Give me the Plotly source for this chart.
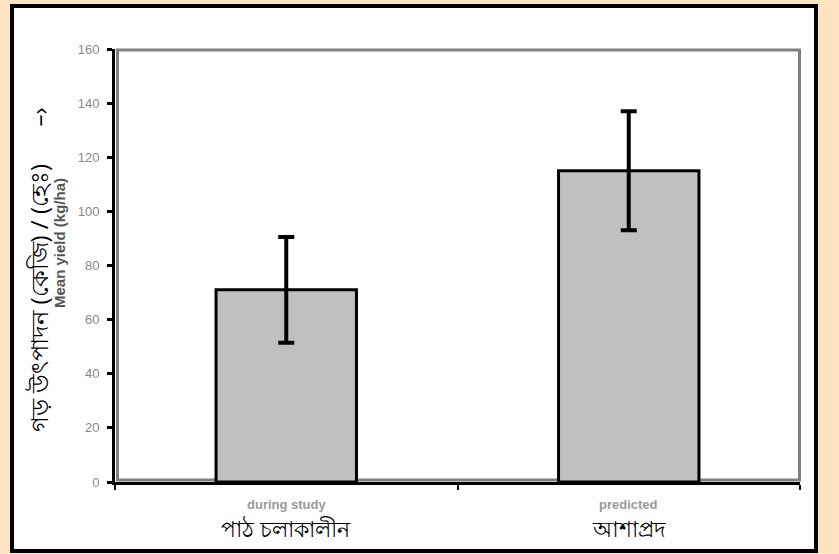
import plotly.graph_objects as go

categories = ["during study", "predicted"]
categories_bn = ["পাঠ চলাকালীন", "আশাপ্রদ"]
means = [71, 115]
errors = [19.5, 22]
y_ticks = [0, 20, 40, 60, 80, 100, 120, 140, 160]
y_title_bn = "গড় উৎপাদন (কেজি) / (হেঃ)" + "\u00a0" * 6 + "–›"
y_title_en = "Mean yield (kg/ha)"

W, H = 839, 554
L, R, T, B = 115, 39, 49, 72
pw, ph = W - L - R, H - T - B

def px_x(p):
    return (p - L) / pw

def px_y(p):
    return (H - B - p) / ph

xs = list(range(len(categories)))

fig = go.Figure()
fig.add_trace(go.Bar(
    x=xs, y=means, width=0.41,
    marker=dict(color="#C0C0C0", line=dict(color="black", width=3)),
    error_y=dict(type="data", array=errors, visible=True, color="black", thickness=4, width=8),
    showlegend=False, hoverinfo="skip",
))

shapes = [
    dict(type="rect", xref="paper", yref="paper", x0=px_x(12), x1=px_x(816), y0=px_y(551), y1=px_y(6),
         fillcolor="white", line=dict(color="black", width=4), layer="below"),
    dict(type="rect", xref="paper", yref="paper", x0=px_x(117.5), x1=px_x(799.5), y0=px_y(480), y1=px_y(50),
         fillcolor="rgba(0,0,0,0)", line=dict(color="#808080", width=3), layer="below"),
]

annotations = []
for i, (en, bn) in enumerate(zip(categories, categories_bn)):
    annotations.append(dict(x=xs[i], y=px_y(504), xref="x", yref="paper", text="<b>" + en + "</b>",
                            showarrow=False, font=dict(size=13, color="#9a9a9a", family="Arial"),
                            xanchor="center", yanchor="middle"))
    annotations.append(dict(x=xs[i], y=px_y(528), xref="x", yref="paper", text=bn,
                            showarrow=False, font=dict(size=22, color="black"),
                            xanchor="center", yanchor="middle"))
annotations.append(dict(x=px_x(38), y=px_y(270), xref="paper", yref="paper", text=y_title_bn,
                        textangle=-90, showarrow=False, font=dict(size=24, color="black"),
                        xanchor="center", yanchor="middle"))
annotations.append(dict(x=px_x(59), y=px_y(243), xref="paper", yref="paper", text="<b>" + y_title_en + "</b>",
                        textangle=-90, showarrow=False, font=dict(size=15, color="#555555", family="Arial"),
                        xanchor="center", yanchor="middle"))

fig.update_layout(
    width=W, height=H,
    margin=dict(l=L, r=R, t=T, b=B, pad=0),
    paper_bgcolor="#FCE3C2",
    plot_bgcolor="white",
    shapes=shapes,
    annotations=annotations,
    xaxis=dict(range=[-0.5, 1.5], tickvals=[-0.5, 0.5, 1.5], ticktext=["", "", ""],
               ticks="outside", ticklen=5, tickwidth=2, tickcolor="black",
               showline=True, linecolor="black", linewidth=3, showgrid=False, zeroline=False,
               fixedrange=True),
    yaxis=dict(range=[0, 160], tickvals=y_ticks, ticks="outside", ticklen=5, tickwidth=3,
               tickcolor="black", showline=True, linecolor="black", linewidth=3,
               showgrid=False, zeroline=False, ticklabelstandoff=5, fixedrange=True,
               tickfont=dict(size=13, color="#8a8a8a", family="Arial")),
    bargap=0.59,
)

fig.write_html("out.html", config={"displayModeBar": False},
               post_script="document.body.style.margin='0';document.body.style.background='#FCE3C2';")
